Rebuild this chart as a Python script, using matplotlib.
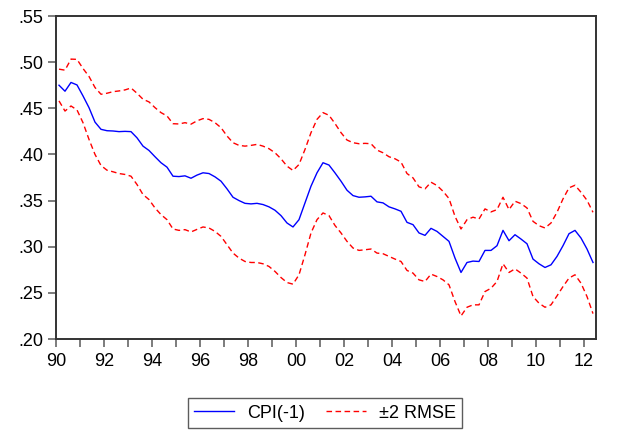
import matplotlib
matplotlib.use("Agg")
import matplotlib.pyplot as plt
import numpy as np

# quarterly data, 1990Q1 - 2012Q2
start_year = 1990
cpi = [
    .475, .4685, .478, .4753, .4634, .4507, .435, .4272, .4257, .4254,
    .4247, .425, .4247, .418, .409, .4043, .3975, .391, .3862, .3764,
    .3760, .3768, .3742, .3776, .3801, .3793, .3757, .371, .3627, .3536,
    .350, .347, .3464, .347, .3457, .3432, .3395, .3337, .3257, .3214,
    .3293, .3475, .3656, .3801, .391, .3885, .380, .371, .3612, .3554,
    .3536, .354, .3547, .3486, .3475, .3432, .341, .3384, .3264, .3239,
    .3149, .3123, .3199, .3166, .3112, .3058, .2877, .2721, .2829, .2844,
    .284, .296, .296, .3011, .3177, .3065, .313, .3083, .3032, .2866,
    .2815, .2775, .2804, .2895, .3011, .3141, .3177, .3094, .2975, .2829,
]
upper = [
    .4924, .4913, .5033, .503, .4931, .4845, .4725, .4652, .4663, .468,
    .4688, .4699, .472, .4663, .4598, .4569, .4507, .4453, .4417, .4333,
    .433, .4344, .4328, .4364, .4388, .438, .4344, .429, .42, .4127,
    .4098, .409, .4098, .4109, .409, .4062, .4018, .3953, .3873, .3826,
    .3891, .4054, .4236, .438, .4453, .4424, .4335, .4236, .4156, .4127,
    .4116, .412, .4116, .4047, .4018, .3975, .3953, .3917, .3793, .3746,
    .3649, .3627, .3699, .3663, .3601, .3522, .3329, .3192, .3293, .332,
    .33, .341, .3377, .3402, .3536, .3402, .3493, .3467, .342, .3275,
    .3228, .3203, .3257, .3373, .3518, .3638, .3666, .359, .3503, .3373,
]
lower = [
    .458, .447, .4525, .4482, .4344, .4163, .400, .388, .3829, .3812,
    .3793, .3783, .3764, .3674, .3565, .3511, .342, .3348, .3293, .3192,
    .3177, .3185, .316, .3188, .3214, .3203, .3166, .3112, .3022, .2931,
    .2877, .284, .2829, .2829, .2815, .2786, .2732, .2666, .2612, .2594,
    .2696, .2913, .3149, .3293, .3366, .3337, .323, .3149, .3058, .2986,
    .296, .2967, .2975, .2931, .2924, .2895, .2866, .284, .2743, .2714,
    .2641, .2623, .2703, .2677, .2641, .2587, .2406, .225, .2344, .237,
    .237, .2514, .255, .2623, .2815, .2721, .276, .2714, .266, .246,
    .2388, .2344, .237, .2467, .2568, .266, .2696, .2605, .246, .2275,
]

t = start_year + 0.125 + 0.25 * np.arange(len(cpi))

plt.rcParams['font.family'] = ['Liberation Sans', 'DejaVu Sans']
fig = plt.figure(figsize=(6.24, 4.30), dpi=100)
ax = fig.add_axes([56 / 624, 1 - 339 / 430, 540 / 624, 323 / 430])

ax.plot(t, cpi, color=(0, 0, 1), lw=1.0, label="CPI(-1)")
ax.plot(t, upper, color=(1, 0, 0), lw=1.0, ls=(0, (4, 2.5)), label="\u00b12 RMSE")
ax.plot(t, lower, color=(1, 0, 0), lw=1.0, ls=(0, (4, 2.5)))

ax.set_xlim(1990, 2012.5)
ax.set_ylim(0.20, 0.55)

yt = np.arange(0.20, 0.551, 0.05)
ax.set_yticks(yt)
ax.set_yticklabels([("%.2f" % v)[1:] for v in yt])

years = np.arange(1990, 2013)
ax.set_xticks(years)
ax.set_xticklabels(["%02d" % (y % 100) if y % 2 == 0 else "" for y in years])

for s in ax.spines.values():
    s.set_color("#333333")
    s.set_linewidth(1.4)
ax.tick_params(axis="both", labelsize=13, color="#666666", width=1.2,
               length=6, direction="out", top=False, right=False)
ax.tick_params(axis="x", pad=4)
ax.tick_params(axis="y", pad=3)

fig.legend(loc="center", bbox_to_anchor=(325 / 624, 1 - 413 / 430), ncol=2,
           fontsize=13, frameon=True, fancybox=False, edgecolor="#333333",
           handlelength=2.2, columnspacing=1.2, borderpad=0.35, handletextpad=0.7)

fig.savefig("out.png", dpi=100)
